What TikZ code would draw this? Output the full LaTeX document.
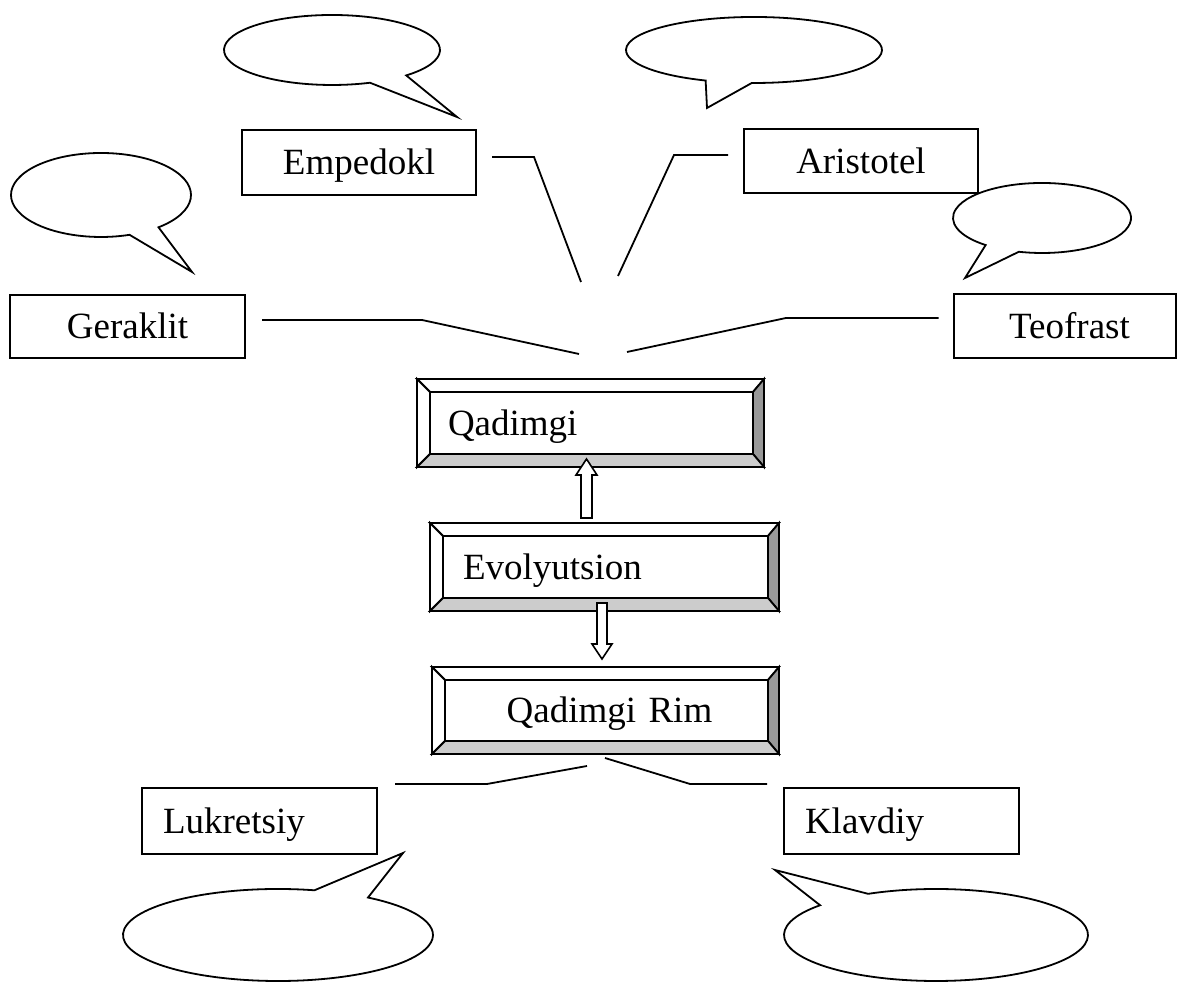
\documentclass[tikz,border=0pt]{standalone}
\usepackage{fontspec}
\setmainfont{Liberation Serif}
\usetikzlibrary{calc}
\definecolor{bevdark}{HTML}{999999}
\definecolor{bevlight}{HTML}{CCCCCC}
\tikzset{
  txt/.style={font=\fontsize{18.5}{22}\selectfont, text height=16.6pt, text depth=4.4pt},
  namebox/.style={txt, draw, line width=1pt, inner sep=0pt, outer sep=0pt},
  leftbox/.style={namebox, inner xsep=10.5pt, text width=96.5pt, align=left},
  bevnode/.style={txt, outer sep=0pt, inner ysep=0pt},
  bev/.style={draw, line width=0.9pt, line join=miter},
  conn/.style={draw, line width=0.9pt},
  bubble/.style={draw, line width=0.9pt, fill=white, line join=miter},
  blockarrow/.style={draw, line width=0.8pt, fill=white, line join=miter}
}
\newcommand\bevelize[1]{%
  \coordinate (#1-o1) at (#1.north west);
  \coordinate (#1-o2) at (#1.north east);
  \coordinate (#1-o3) at (#1.south east);
  \coordinate (#1-o4) at (#1.south west);
  \coordinate (#1-i1) at ($(#1-o1)+(13,-13)$);
  \coordinate (#1-i2) at ($(#1-o2)+(-11,-13)$);
  \coordinate (#1-i3) at ($(#1-o3)+(-11,13)$);
  \coordinate (#1-i4) at ($(#1-o4)+(13,13)$);
  \filldraw[bev, fill=white] (#1-o1) -- (#1-o2) -- (#1-i2) -- (#1-i1) -- cycle;
  \filldraw[bev, fill=white] (#1-o1) -- (#1-i1) -- (#1-i4) -- (#1-o4) -- cycle;
  \filldraw[bev, fill=bevdark] (#1-o2) -- (#1-o3) -- (#1-i3) -- (#1-i2) -- cycle;
  \filldraw[bev, fill=bevlight] (#1-o4) -- (#1-i4) -- (#1-i3) -- (#1-o3) -- cycle;
}
\begin{document}
\begin{tikzpicture}[x=0.5pt,y=0.5pt]
\useasboundingbox (0,0) rectangle (1177,983);

% name boxes
\node[namebox, minimum width=117pt, minimum height=32.5pt] (emp) at (359,820.5) {Empedokl};
\node[namebox, minimum width=117pt, minimum height=32pt] (ari) at (861,822) {Aristotel};
\node[namebox, minimum width=117.5pt, minimum height=31.5pt] (ger) at (127.5,656.5) {Geraklit};
\node[namebox, minimum width=111pt, minimum height=32pt] (teo) at (1064.5,657) {\hspace*{5pt}Teofrast};
\node[leftbox, minimum width=117.5pt, minimum height=33pt] (luk) at (259.5,162) {Lukretsiy};
\node[leftbox, minimum width=117.5pt, minimum height=33pt] (kla) at (901.5,162) {Klavdiy};

% bevel boxes
\node[bevnode, minimum width=173.5pt, minimum height=44pt, inner xsep=15.5pt, text width=142.5pt, align=left] (qad) at (590.5,560) {};
\bevelize{qad}
\node[bevnode, minimum width=173.5pt, minimum height=44pt, inner xsep=15.5pt, text width=142.5pt, align=left] (qadt) at (qad) {Qadimgi};

\node[bevnode, minimum width=174.5pt, minimum height=44pt, inner xsep=16.5pt, text width=141.5pt, align=left] (evo) at (604.5,416) {};
\bevelize{evo}
\node[bevnode, minimum width=174.5pt, minimum height=44pt, inner xsep=16.5pt, text width=141.5pt, align=left] (evot) at (evo) {Evolyutsion};

\node[bevnode, minimum width=173.5pt, minimum height=43.5pt, inner xsep=0pt, text width=173.5pt, align=center] (rim) at (605.5,272.5) {};
\bevelize{rim}
\node[bevnode, minimum width=173.5pt, minimum height=43.5pt, inner xsep=0pt, text width=173.5pt, align=center] (rimt) at ($(rim)+(4,0)$) {Qadimgi Rim};

% block arrows
\coordinate (ua) at ($(evo.north)+(-18,5)$);
\draw[blockarrow] ($(ua)+(-5.5,0)$) -- ($(ua)+(5.5,0)$) -- ($(ua)+(5.5,43)$) -- ($(ua)+(10.5,43)$)
  -- ($(ua)+(0,59)$) -- ($(ua)+(-10.5,43)$) -- ($(ua)+(-5.5,43)$) -- cycle;
\coordinate (da) at ($(evo.south)+(-2.5,8)$);
\draw[blockarrow] ($(da)+(-5,0)$) -- ($(da)+(5,0)$) -- ($(da)+(5,-41)$) -- ($(da)+(10,-41)$)
  -- ($(da)+(0,-56)$) -- ($(da)+(-10,-41)$) -- ($(da)+(-5,-41)$) -- cycle;

% connectors
\coordinate (empA) at ($(emp.east)+(16,5.5)$);
\coordinate (empE) at (581,701);
\draw[conn] (empA) -- (534,826) -- (empE);
\coordinate (ariA) at ($(ari.west)+(-16,6)$);
\coordinate (ariE) at (618,707);
\draw[conn] (ariA) -- (674,828) -- (ariE);
\coordinate (gerA) at ($(ger.east)+(17,6.5)$);
\coordinate (gerE) at (579,629);
\draw[conn] (gerA) -- (422,663) -- (gerE);
\coordinate (teoA) at ($(teo.west)+(-15,8)$);
\coordinate (teoE) at (627,631);
\draw[conn] (teoA) -- (786,665) -- (teoE);
\coordinate (lukA) at ($(luk.east)+(18,37)$);
\coordinate (rimL) at (587,217);
\draw[conn] (lukA) -- (487,199) -- (rimL);
\coordinate (rimR) at (605,225);
\coordinate (klaA) at ($(kla.west)+(-17,37)$);
\draw[conn] (rimR) -- (690,199) -- (klaA);

% speech bubbles
\coordinate (bEmp) at (332,933);
\draw[bubble] ($(bEmp)+(-46.6:108 and 35)$) arc[start angle=-46.6, end angle=290.6, x radius=108, y radius=35] -- (457,866) -- cycle;
\coordinate (bAri) at (754,933);
\draw[bubble] ($(bAri)+(269:128 and 33)$) arc[start angle=269, end angle=607.8, x radius=128, y radius=33] -- (707,875) -- cycle;
\coordinate (bGer) at (101,788);
\draw[bubble] ($(bGer)+(-50.3:90 and 42)$) arc[start angle=-50.3, end angle=288.5, x radius=90, y radius=42] -- (192,711) -- cycle;
\coordinate (bTeo) at (1042,765);
\draw[bubble] ($(bTeo)+(254.9:89 and 35)$) arc[start angle=254.9, end angle=590.7, x radius=89, y radius=35] -- (965,705) -- cycle;
\coordinate (bLuk) at (278,48);
\draw[bubble] ($(bLuk)+(76.4:155 and 46)$) arc[start angle=76.4, end angle=414.5, x radius=155, y radius=46] -- (403,130) -- cycle;
\coordinate (bKla) at (936,48);
\draw[bubble] ($(bKla)+(139.7:152 and 46)$) arc[start angle=139.7, end angle=476.5, x radius=152, y radius=46] -- (775,113) -- cycle;
\end{tikzpicture}
\end{document}
